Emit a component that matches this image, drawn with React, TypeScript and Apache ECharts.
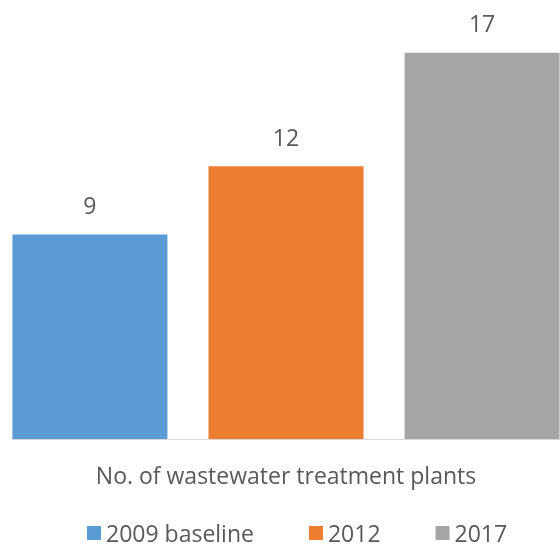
import React, { useEffect, useRef } from "react";
import * as echarts from "echarts";

const categories = ["No. of wastewater treatment plants"];
const seriesNames = ["2009 baseline", "2012", "2017"];
const seriesValues = [[9], [12], [17]];
const seriesColors = ["#5b9bd5", "#ed7d31", "#a5a5a5"];

export default function App() {
  const ref = useRef<HTMLDivElement>(null);
  useEffect(() => {
    const chart = echarts.init(ref.current!, null, { renderer: "svg" });
    const font = "'Open Sans', 'Noto Sans', sans-serif";
    chart.setOption({
      animation: false,
      textStyle: { fontFamily: font },
      grid: { left: 12, right: -1, top: 30, height: 409 },
      legend: {
        top: 521,
        left: 87,
        padding: 0,
        icon: "rect",
        itemWidth: 14,
        itemHeight: 14,
        itemGap: 55,
        textStyle: { fontSize: 23, lineHeight: 24, color: "#595959", fontFamily: font },
        data: seriesNames,
      },
      xAxis: {
        type: "category",
        data: categories,
        axisLine: { lineStyle: { color: "#d9d9d9" } },
        axisTick: { show: false },
        axisLabel: { fontSize: 23, color: "#595959", margin: 24, fontFamily: font },
      },
      yAxis: {
        type: "value",
        min: 0,
        max: 18,
        show: false,
        splitLine: { show: false },
      },
      series: seriesNames.map((name, i) => ({
        name,
        type: "bar",
        data: seriesValues[i],
        barWidth: 155,
        barGap: "26.5%",
        itemStyle: { color: seriesColors[i] },
        label: {
          show: true,
          position: "top",
          distance: 18,
          fontSize: 23,
          color: "#595959",
          fontFamily: font,
        },
      })),
    });
    return () => chart.dispose();
  }, []);
  return (
    <div
      ref={ref}
      style={{ position: "fixed", left: 0, top: 0, width: 560, height: 548 }}
    />
  );
}
